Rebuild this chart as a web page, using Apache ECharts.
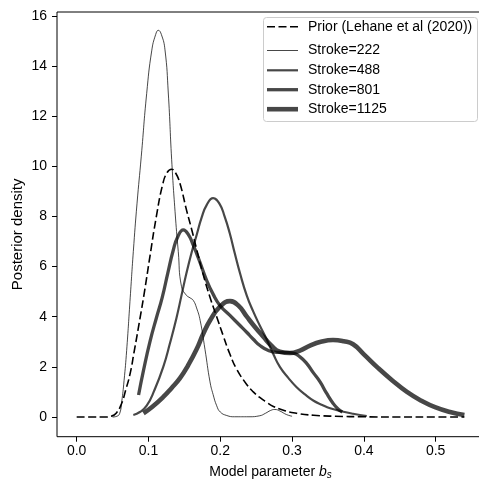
<!DOCTYPE html>
<html>
<head>
<meta charset="utf-8">
<script src="https://cdn.jsdelivr.net/npm/echarts@6/dist/echarts.min.js"></script>
<style>
  html, body { margin: 0; padding: 0; background: #fff; }
  #chart { width: 479px; height: 484px; }
</style>
</head>
<body>
<div id="chart"></div>
<script>
// Prior density of b_s and the posterior densities after each stroke count
const priorX = [0.000, 0.020, 0.040, 0.048, 0.055, 0.0627, 0.068, 0.0742, 0.080, 0.088, 0.095, 0.102, 0.111, 0.120, 0.126, 0.132, 0.138, 0.144, 0.153, 0.160, 0.167, 0.176, 0.186, 0.195, 0.204, 0.2135, 0.223, 0.2368, 0.246, 0.255, 0.265, 0.274, 0.290, 0.306, 0.330, 0.360, 0.400, 0.450, 0.500, 0.540];
const priorY = [0, 0, 0, 0.03, 0.15, 0.55, 1.05, 1.7, 2.6, 3.9, 5.1, 6.4, 8.0, 9.3, 9.75, 9.88, 9.72, 9.3, 8.25, 7.5, 6.7, 5.7, 4.75, 4.0, 3.25, 2.5, 1.9, 1.3, 1.0, 0.78, 0.58, 0.42, 0.25, 0.15, 0.07, 0.03, 0.01, 0, 0, 0];

const s222X = [0.050, 0.056, 0.060, 0.0627, 0.066, 0.0696, 0.0742, 0.0789, 0.084, 0.090, 0.0975, 0.1045, 0.110, 0.1137, 0.118, 0.123, 0.1276, 0.1323, 0.137, 0.1415, 0.146, 0.153, 0.158, 0.1624, 0.167, 0.172, 0.1787, 0.1857, 0.190, 0.195, 0.200, 0.209, 0.220, 0.240, 0.255, 0.263, 0.270, 0.276, 0.283, 0.292, 0.300];
const s222Y = [0, 0.03, 0.15, 0.6, 1.45, 2.65, 4.6, 6.6, 8.5, 10.4, 12.9, 14.6, 15.25, 15.42, 15.25, 14.64, 12.92, 10.26, 8.2, 6.6, 5.2, 4.85, 4.75, 4.65, 4.35, 3.85, 2.7, 1.4, 0.9, 0.45, 0.2, 0.06, 0.01, 0.01, 0.05, 0.15, 0.26, 0.3, 0.24, 0.1, 0.03];

const s488X = [0.0789, 0.088, 0.0975, 0.108, 0.1206, 0.130, 0.139, 0.146, 0.153, 0.160, 0.167, 0.174, 0.181, 0.190, 0.199, 0.206, 0.213, 0.220, 0.2275, 0.2368, 0.246, 0.255, 0.2646, 0.274, 0.283, 0.295, 0.306, 0.318, 0.330, 0.342, 0.353, 0.370, 0.385, 0.404];
const s488Y = [0.08, 0.2, 0.45, 1.05, 2.0, 2.95, 3.95, 4.85, 5.75, 6.55, 7.25, 7.95, 8.45, 8.73, 8.5, 8.0, 7.35, 6.55, 5.73, 4.85, 4.2, 3.65, 3.1, 2.5, 2.0, 1.55, 1.2, 0.9, 0.65, 0.48, 0.35, 0.22, 0.13, 0.04];

const s801X = [0.0862, 0.093, 0.102, 0.111, 0.119, 0.127, 0.1345, 0.141, 0.1485, 0.156, 0.1624, 0.170, 0.181, 0.190, 0.1996, 0.2135, 0.2275, 0.2368, 0.246, 0.2553, 0.267, 0.2786, 0.290, 0.3017, 0.311, 0.320, 0.330, 0.339, 0.348, 0.357, 0.364, 0.370];
const s801Y = [0.88, 1.85, 3.0, 3.95, 4.75, 5.75, 6.65, 7.2, 7.46, 7.25, 6.85, 6.3, 5.45, 4.9, 4.45, 4.05, 3.65, 3.38, 3.1, 2.85, 2.65, 2.58, 2.58, 2.55, 2.4, 2.15, 1.75, 1.4, 0.95, 0.55, 0.32, 0.2];

const s1125X = [0.093, 0.105, 0.1206, 0.132, 0.1439, 0.155, 0.167, 0.176, 0.1857, 0.1996, 0.2135, 0.225, 0.237, 0.248, 0.260, 0.271, 0.283, 0.297, 0.311, 0.325, 0.340, 0.357, 0.372, 0.385, 0.400, 0.420, 0.440, 0.460, 0.480, 0.500, 0.520, 0.540];
const s1125Y = [0.15, 0.4, 0.8, 1.15, 1.55, 2.05, 2.7, 3.3, 3.85, 4.4, 4.62, 4.45, 4.0, 3.6, 3.2, 2.85, 2.6, 2.55, 2.65, 2.85, 3.0, 3.07, 3.02, 2.9, 2.5, 1.95, 1.45, 1.0, 0.65, 0.38, 0.2, 0.08];

const seriesNames = ['Prior (Lehane et al (2020))', 'Stroke=222', 'Stroke=488', 'Stroke=801', 'Stroke=1125'];
const xTicks = [0.0, 0.1, 0.2, 0.3, 0.4, 0.5];
const yTicks = [0, 2, 4, 6, 8, 10, 12, 14, 16];

const FONT = '"Liberation Sans", Arial, sans-serif';
const strokeColor = 'rgba(0,0,0,0.72)';

function pairs(xs, ys) { return xs.map((x, i) => [x, ys[i]]); }

const lineDefs = [
  { data: pairs(priorX, priorY), color: '#000', width: 1.6, type: [8, 3.5] },
  { data: pairs(s222X, s222Y), color: strokeColor, width: 1.0, type: 'solid' },
  { data: pairs(s488X, s488Y), color: strokeColor, width: 2.2, type: 'solid' },
  { data: pairs(s801X, s801Y), color: strokeColor, width: 3.3, type: 'solid' },
  { data: pairs(s1125X, s1125Y), color: strokeColor, width: 4.6, type: 'solid' }
];

const series = lineDefs.map((d, i) => ({
  name: seriesNames[i],
  type: 'line',
  data: d.data,
  showSymbol: false,
  symbol: 'none',
  smooth: 0.5,
  lineStyle: { color: d.color, width: d.width, type: d.type, cap: 'butt', join: 'round' },
  emphasis: { disabled: true },
  z: 2 + i
}));

// Legend box drawn with graphic elements
const legendLeft = 263.5, legendTop = 17.5, legendW = 214, legendH = 104;
const rowY = [26.7, 50.5, 70.3, 89.7, 109.2];
const legendGraphics = [{
  type: 'rect',
  shape: { x: legendLeft, y: legendTop, width: legendW, height: legendH, r: 3 },
  style: { fill: 'rgba(255,255,255,0.8)', stroke: '#cccccc', lineWidth: 1 },
  z: 100
}];
lineDefs.forEach((d, i) => {
  legendGraphics.push({
    type: 'line',
    shape: { x1: 267, y1: rowY[i], x2: 298, y2: rowY[i] },
    style: { stroke: d.color, lineWidth: d.width, lineDash: d.type === 'solid' ? null : d.type, lineCap: 'butt' },
    z: 101
  });
  legendGraphics.push({
    type: 'text',
    x: 308, y: rowY[i],
    style: { text: seriesNames[i], fill: '#000', font: '14px ' + FONT, textVerticalAlign: 'middle', textAlign: 'left' },
    z: 101
  });
});

const chart = echarts.init(document.getElementById('chart'), null, { renderer: 'canvas' });
chart.setOption({
  animation: false,
  backgroundColor: '#fff',
  grid: {
    left: 57, top: 12, width: 427, height: 424.7,
    outerBoundsMode: 'none',
    containLabel: false,
    show: true, borderColor: '#000', borderWidth: 1, backgroundColor: 'transparent'
  },
  xAxis: {
    type: 'value',
    min: -0.0274, max: 0.5673,
    name: '{n|Model parameter }{b|b}{s|s}',
    nameLocation: 'middle',
    nameGap: 27,
    nameMoveOverlap: false,
    nameTextStyle: {
      rich: {
        n: { fontFamily: FONT, fontSize: 14, color: '#000' },
        b: { fontFamily: FONT, fontSize: 14, color: '#000', fontStyle: 'italic' },
        s: { fontFamily: FONT, fontSize: 10, color: '#000', fontStyle: 'italic', padding: [7, 0, 0, 0] }
      }
    },
    axisLine: { show: false, onZero: false },
    axisTick: { show: true, length: 5, inside: false, customValues: xTicks, lineStyle: { color: '#000', width: 1 } },
    axisLabel: { customValues: xTicks, margin: 7, color: '#000', fontFamily: FONT, fontSize: 14, formatter: v => v.toFixed(1) },
    splitLine: { show: false }
  },
  yAxis: {
    type: 'value',
    min: -0.785, max: 16.15,
    name: 'Posterior density',
    nameLocation: 'middle',
    nameGap: 32,
    nameMoveOverlap: false,
    nameTextStyle: { fontFamily: FONT, fontSize: 15, color: '#000', padding: [0, 20, 0, 0] },
    axisLine: { show: false, onZero: false },
    axisTick: { show: true, length: 5, inside: false, customValues: yTicks, lineStyle: { color: '#000', width: 1 } },
    axisLabel: { customValues: yTicks, margin: 10, color: '#000', fontFamily: FONT, fontSize: 14, formatter: v => String(v) },
    splitLine: { show: false }
  },
  series: series,
  graphic: legendGraphics
});
</script>
</body>
</html>
